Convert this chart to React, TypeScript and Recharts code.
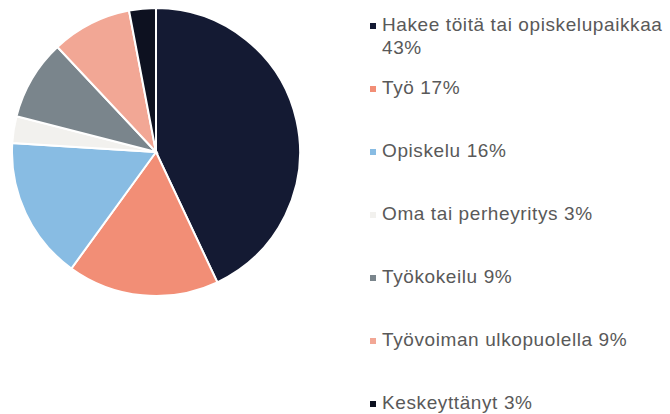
import { Cell, Legend, Pie, PieChart } from "recharts";

const categories = [
  "Hakee töitä tai opiskelupaikkaa",
  "Työ",
  "Opiskelu",
  "Oma tai perheyritys",
  "Työkokeilu",
  "Työvoiman ulkopuolella",
  "Keskeyttänyt",
];
const shares = [43, 17, 16, 3, 9, 9, 3];
const colors = [
  "#141a33",
  "#f28e76",
  "#88bce3",
  "#f2f1ee",
  "#7a858c",
  "#f2a795",
  "#0d1120",
];

const data = categories.map((name, i) => ({ name, value: shares[i] }));

const renderLegend = () => (
  <div style={{ position: "relative", width: 310, height: 414 }}>
    {data.map((d, i) => (
      <div
        key={d.name}
        style={{
          position: "absolute",
          left: 0,
          top: 13 + 63 * i,
          display: "flex",
          alignItems: "flex-start",
          fontFamily: '"Liberation Sans", Arial, sans-serif',
          fontSize: 19,
          letterSpacing: 0.6,
          lineHeight: "23px",
          color: "#595959",
        }}
      >
        <span
          style={{
            display: "inline-block",
            width: 6,
            height: 6,
            marginTop: 10,
            marginLeft: 10,
            marginRight: 6,
            background: colors[i],
            flex: "none",
          }}
        />
        <span style={{ width: 288 }}>
          {d.name} {d.value}%
        </span>
      </div>
    ))}
  </div>
);

export default function App() {
  return (
    <div style={{ position: "absolute", left: 0, top: 0 }}>
      <PieChart width={670} height={414} margin={{ top: 0, right: 0, bottom: 0, left: 0 }}>
        <Pie
          data={data}
          dataKey="value"
          nameKey="name"
          cx={156}
          cy={152}
          outerRadius={144}
          startAngle={90}
          endAngle={-270}
          stroke="#ffffff"
          strokeWidth={2}
          isAnimationActive={false}
        >
          {data.map((d, i) => (
            <Cell key={d.name} fill={colors[i]} />
          ))}
        </Pie>
        <Legend
          content={renderLegend}
          wrapperStyle={{ position: "absolute", left: 360, top: 0, width: 310, height: 414 }}
        />
      </PieChart>
    </div>
  );
}
